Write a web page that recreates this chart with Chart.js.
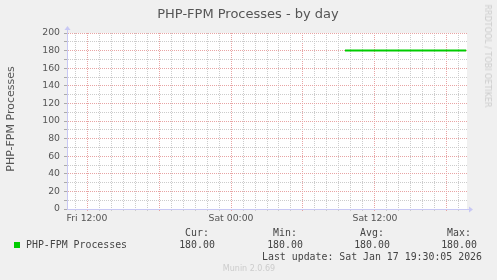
<!DOCTYPE html>
<html>
<head>
<meta charset="utf-8">
<script src="https://cdn.jsdelivr.net/npm/chart.js@4/dist/chart.umd.min.js"></script>
<style>
html,body{margin:0;padding:0;background:#f0f0f0;}
#wrap{position:relative;width:497px;height:280px;overflow:hidden;font-family:"DejaVu Sans",sans-serif;}
canvas{position:absolute;left:0;top:0;}
.t{position:absolute;white-space:pre;line-height:1;transform:translate(-50%,-50%);}
.m{font-family:"DejaVu Sans Mono",monospace;font-size:9.9px;color:#444;}
</style>
</head>
<body>
<div id="wrap">
  <canvas id="c" width="497" height="280"></canvas>
  <div class="t" style="left:248px;top:13px;font-size:13px;color:#555">PHP-FPM Processes - by day</div>
  <div class="t" style="left:10px;top:119px;font-size:11px;color:#555;transform:translate(-50%,-50%) rotate(-90deg)">PHP-FPM Processes</div>
  <div class="t" style="left:487px;top:56px;font-size:8px;color:#ccc;transform:translate(-50%,-50%) rotate(90deg)">RRDTOOL / TOBI OETIKER</div>
  <div style="position:absolute;left:14px;top:242px;width:6px;height:6px;background:#00cc00"></div>
  <div class="t m" style="left:26px;top:245px;transform:translate(0,-50%)">PHP-FPM Processes</div>
  <div class="t m" style="left:197px;top:233px">Cur:</div>
  <div class="t m" style="left:285px;top:233px">Min:</div>
  <div class="t m" style="left:372px;top:233px">Avg:</div>
  <div class="t m" style="left:459px;top:233px">Max:</div>
  <div class="t m" style="left:197px;top:245px">180.00</div>
  <div class="t m" style="left:285px;top:245px">180.00</div>
  <div class="t m" style="left:372px;top:245px">180.00</div>
  <div class="t m" style="left:459px;top:245px">180.00</div>
  <div class="t m" style="left:482px;top:257px;transform:translate(-100%,-50%)">Last update: Sat Jan 17 19:30:05 2026</div>
  <div class="t" style="left:249px;top:269px;font-size:8px;color:#ccc">Munin 2.0.69</div>
</div>
<script>
// hours counted from Fri 00:00
const procHours=[33.5,43.6];
const procValues=[180,180];
const xMin=10.33, xMax=43.67;
const xTickHours=[12,24,36];
const xTickLabels=['Fri 12:00','Sat 00:00','Sat 12:00'];

const RED='#e8a4a4', GREY='#cccccc', AXIS='#c8c8f4';

const bgPlugin={id:'bg',
  beforeDraw(ch){const a=ch.chartArea,c=ch.ctx;c.save();c.fillStyle='#fff';
    c.fillRect(a.left,a.top,a.right-a.left,a.bottom-a.top);c.restore();},
  afterDraw(ch){const a=ch.chartArea,c=ch.ctx;c.save();c.strokeStyle=AXIS;c.fillStyle=AXIS;c.lineWidth=1;
    c.beginPath();c.moveTo(a.left+0.5,a.top);c.lineTo(a.left+0.5,a.top-3);c.stroke();
    c.beginPath();c.moveTo(a.right,a.bottom+0.5);c.lineTo(a.right+3,a.bottom+0.5);c.stroke();
    c.beginPath();c.moveTo(a.left-2.5,a.top-3);c.lineTo(a.left+3.5,a.top-3);c.lineTo(a.left+0.5,a.top-7);c.closePath();c.fill();
    c.beginPath();c.moveTo(a.right+2,a.bottom-2.5);c.lineTo(a.right+2,a.bottom+3.5);c.lineTo(a.right+6,a.bottom+0.5);c.closePath();c.fill();
    c.restore();}
};

new Chart(document.getElementById('c'),{
  type:'line',
  data:{datasets:[{label:'PHP-FPM Processes',
    data:procHours.map((h,i)=>({x:h,y:procValues[i]})),
    borderColor:'#00cc00',borderWidth:2,pointRadius:0,tension:0}]},
  options:{responsive:false,animation:false,
    layout:{padding:{top:33,right:30,left:0,bottom:0}},
    plugins:{legend:{display:false},tooltip:{enabled:false}},
    scales:{
      x:{type:'linear',min:xMin,max:xMax,
        afterFit:s=>{s.height=71;},
        afterBuildTicks:s=>{const t=[];for(let h=Math.ceil(xMin);h<=xMax;h++)t.push({value:h});s.ticks=t;},
        ticks:{autoSkip:false,maxRotation:0,padding:1,color:'#555',font:{family:'DejaVu Sans',size:9.3},
          callback:v=>{const i=xTickHours.indexOf(v);return i<0?'':xTickLabels[i];}},
        grid:{color:c=>c.tick&&c.tick.value%6===0?RED:GREY,tickLength:3,tickColor:c=>c.tick&&c.tick.value%6===0?RED:GREY,tickBorderDash:[1,1]},
        border:{color:AXIS,width:1,dash:[1,1]}},
      y:{min:0,max:200,
        afterFit:s=>{s.width=67;},
        afterBuildTicks:s=>{const t=[];for(let v=0;v<=200;v+=10)t.push({value:v});s.ticks=t;},
        ticks:{autoSkip:false,padding:4,color:'#555',font:{family:'DejaVu Sans',size:9.3},
          callback:v=>v%20===0?String(v):''},
        grid:{color:c=>c.tick&&c.tick.value%20===0?RED:GREY,tickLength:3,tickColor:'#aaa'},
        border:{color:AXIS,width:1,dash:[1,1]}}
    }},
  plugins:[bgPlugin]
});
</script>
</body>
</html>
